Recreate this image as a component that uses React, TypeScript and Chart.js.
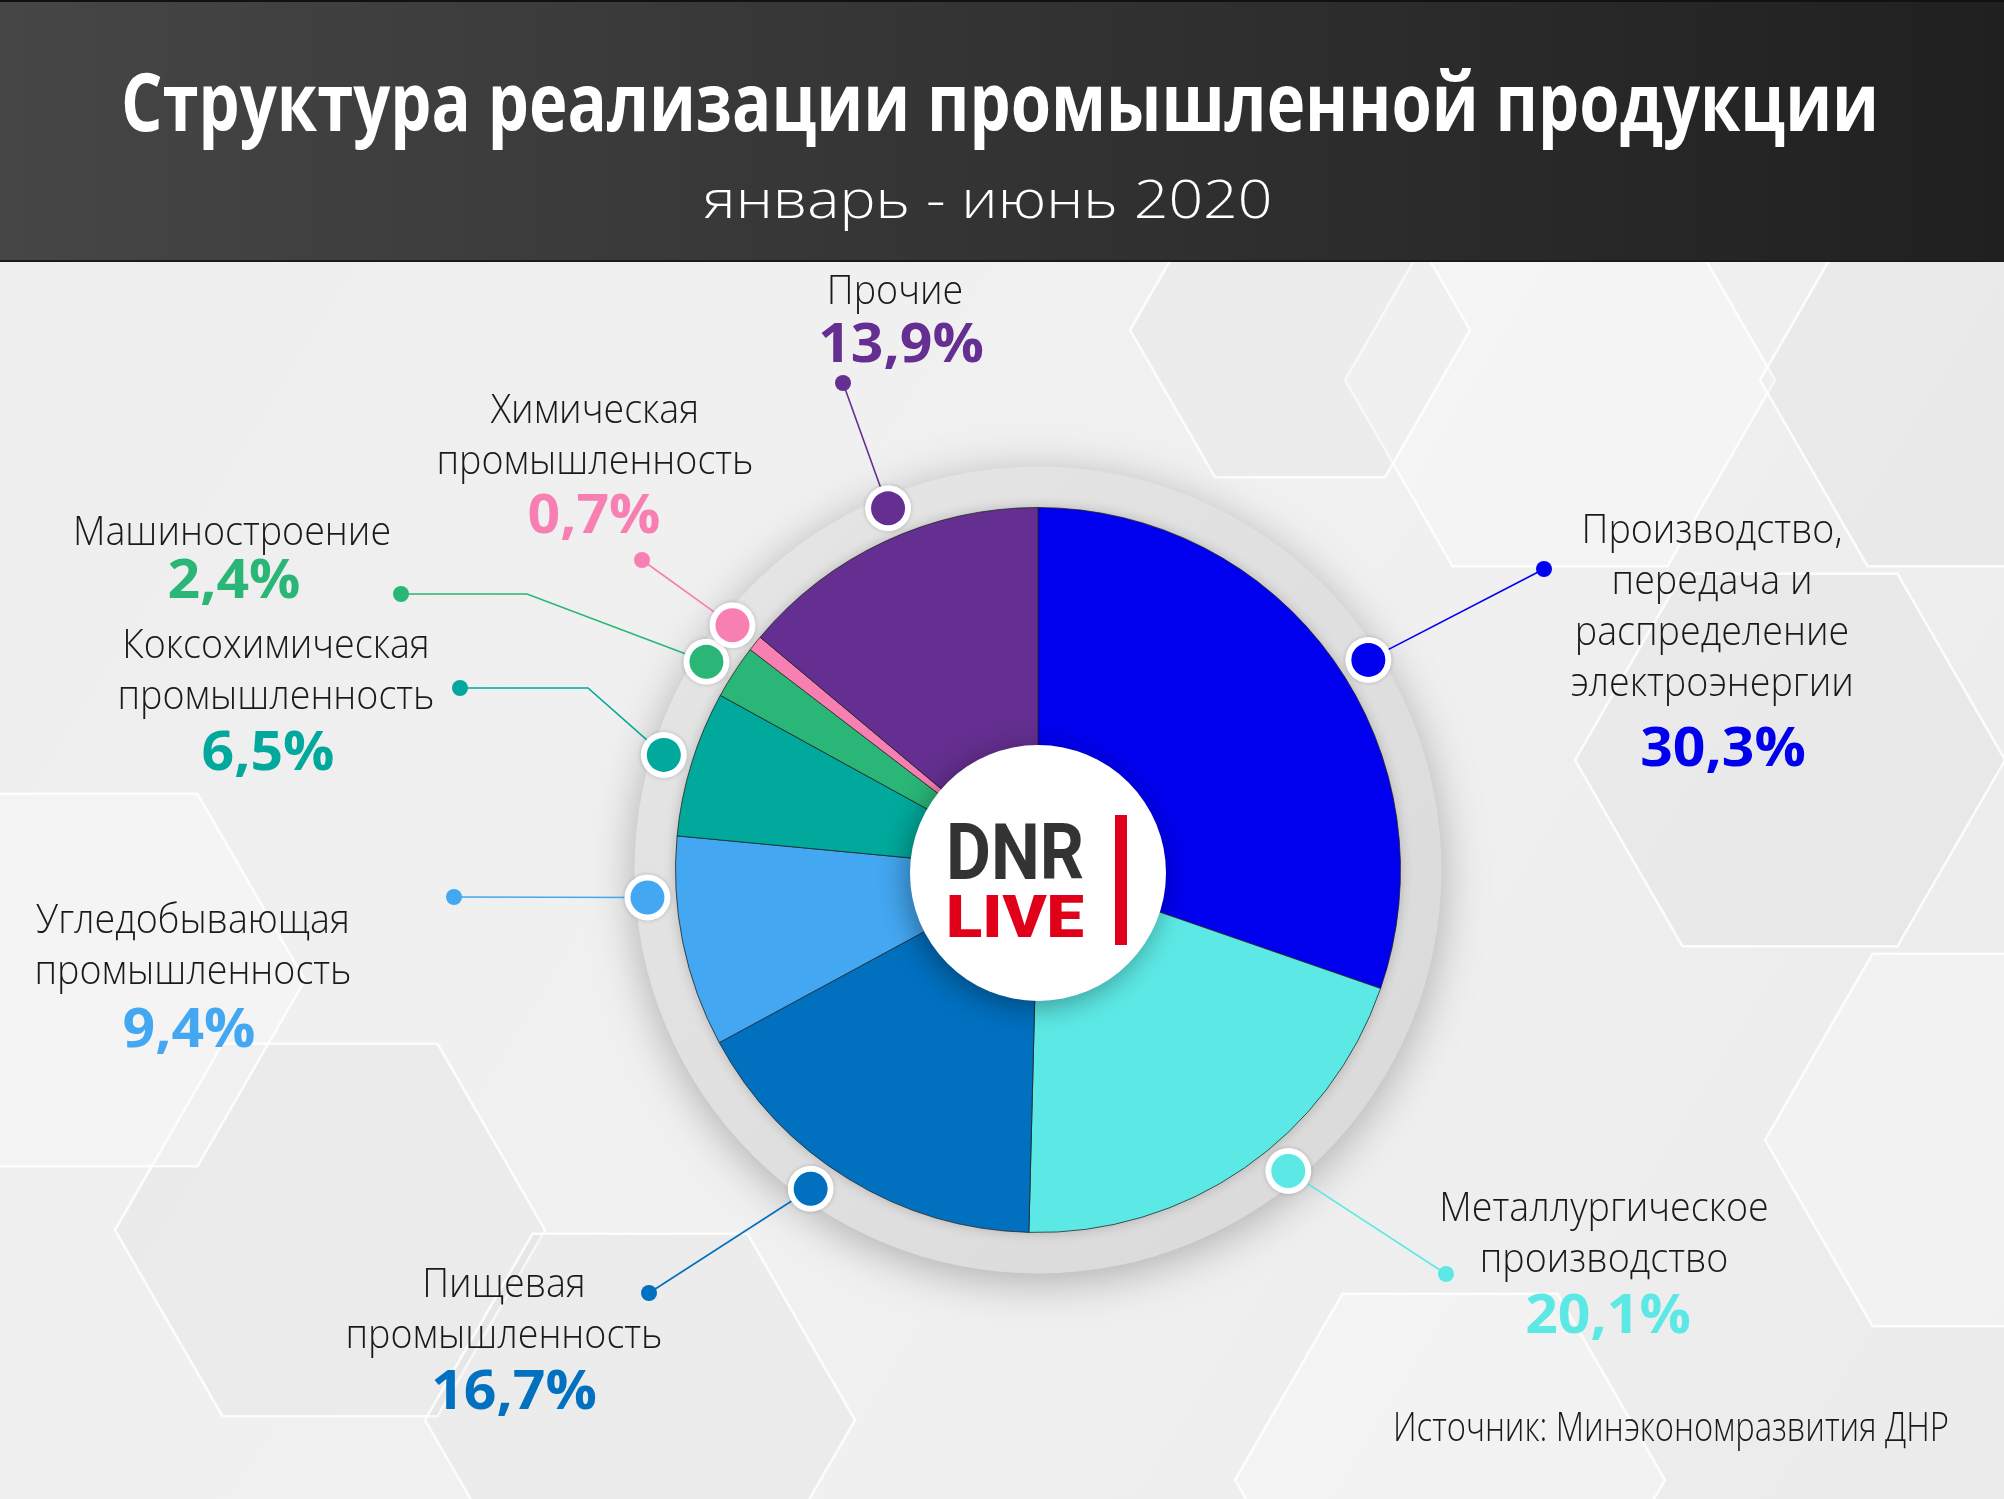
import { useEffect, useRef } from "react";
import { Chart, registerables } from "chart.js";

Chart.register(...registerables);

// ---------- DATA ----------
const titleText = "Структура реализации промышленной продукции";
const subtitleText = "январь - июнь 2020";
const sourceText = "Источник: Минэкономразвития ДНР";

const categories = [
  "Производство, передача и распределение электроэнергии",
  "Металлургическое производство",
  "Пищевая промышленность",
  "Угледобывающая промышленность",
  "Коксохимическая промышленность",
  "Машиностроение",
  "Химическая промышленность",
  "Прочие",
];
const shares = [30.3, 20.1, 16.7, 9.4, 6.5, 2.4, 0.7, 13.9];
const labelLines = [
  ["Производство,", "передача и", "распределение", "электроэнергии"],
  ["Металлургическое", "производство"],
  ["Пищевая", "промышленность"],
  ["Угледобывающая", "промышленность"],
  ["Коксохимическая", "промышленность"],
  ["Машиностроение"],
  ["Химическая", "промышленность"],
  ["Прочие"],
];

// ---------- STYLE / LAYOUT ----------
const sliceColors = ["#0000ee", "#5ce9e5", "#0070bf", "#43a7f1", "#00a99c", "#29b676", "#f77fb1", "#642f90"];
const labelLayout = [
  { x: 1712, y: 543, pctX: 1723, pctY: 766, nudge: 3, path: [[1544, 569]] },
  { x: 1604, y: 1221, pctX: 1608, pctY: 1333, nudge: -5, path: [[1446, 1274]] },
  { x: 504, y: 1297, pctX: 514, pctY: 1409, nudge: 4, path: [[649, 1293]] },
  { x: 193, y: 933, pctX: 189, pctY: 1047, nudge: 7.5, path: [[454, 897]] },
  { x: 276, y: 658, pctX: 268, pctY: 770, nudge: 0, path: [[588, 688], [460, 688]] },
  { x: 232, y: 545, pctX: 234, pctY: 598, nudge: -1, path: [[527, 594], [401, 594]] },
  { x: 595, y: 423, pctX: 594, pctY: 533, nudge: 0, path: [[642, 560]] },
  { x: 895, y: 304, pctX: 901, pctY: 362, nudge: 2.5, path: [[843, 383]] },
];
const hexes = [
  { cx: 1790, cy: 760, r: 215 },
  { cx: 1560, cy: 380, r: 215 },
  { cx: 1975, cy: 380, r: 215 },
  { cx: 1980, cy: 1140, r: 215 },
  { cx: 330, cy: 1230, r: 215 },
  { cx: 90, cy: 980, r: 215 },
  { cx: 640, cy: 1420, r: 215 },
  { cx: 1450, cy: 1480, r: 215 },
  { cx: 1300, cy: 330, r: 170 },
];

const W = 2004;
const H = 1499;
const LABEL_FONT = '300 40px "Open Sans"';
const PCT_FONT = '700 53px "Open Sans"';

function fmtPct(v: number) {
  return v.toFixed(1).replace(".", ",") + "%";
}

function drawText(ctx: CanvasRenderingContext2D, s: string, x: number, y: number, font: string, color: string, sx: number, align: CanvasTextAlign = "center") {
  ctx.save();
  ctx.font = font;
  ctx.fillStyle = color;
  ctx.textBaseline = "alphabetic";
  ctx.textAlign = align;
  ctx.translate(x, y);
  ctx.scale(sx, 1);
  ctx.fillText(s, 0, 0);
  ctx.restore();
}

function scaleFor(ctx: CanvasRenderingContext2D, s: string, font: string, target: number) {
  ctx.save();
  ctx.font = font;
  const w = ctx.measureText(s).width;
  ctx.restore();
  return w > 0 ? target / w : 1;
}

function hexPath(ctx: CanvasRenderingContext2D, cx: number, cy: number, r: number) {
  ctx.beginPath();
  for (let i = 0; i < 6; i++) {
    const a = (Math.PI / 3) * i;
    const px = cx + r * Math.cos(a);
    const py = cy + r * Math.sin(a);
    if (i === 0) ctx.moveTo(px, py);
    else ctx.lineTo(px, py);
  }
  ctx.closePath();
}

const decoPlugin = {
  id: "deco",
  beforeDraw(chart: any) {
    const ctx: CanvasRenderingContext2D = chart.ctx;
    ctx.save();
    const bg = ctx.createLinearGradient(0, 262, W, H);
    bg.addColorStop(0, "#eeeeee");
    bg.addColorStop(0.5, "#f1f1f1");
    bg.addColorStop(1, "#ebebeb");
    ctx.fillStyle = bg;
    ctx.fillRect(0, 0, W, H);
    hexes.forEach((h, i) => {
      hexPath(ctx, h.cx, h.cy, h.r);
      ctx.fillStyle = i % 2 === 0 ? "rgba(0,0,0,0.02)" : "rgba(255,255,255,0.3)";
      ctx.fill();
      ctx.strokeStyle = "rgba(255,255,255,0.85)";
      ctx.lineWidth = 2.5;
      ctx.stroke();
    });
    const hg = ctx.createLinearGradient(0, 0, W, 0);
    hg.addColorStop(0, "#464646");
    hg.addColorStop(1, "#202020");
    ctx.fillStyle = hg;
    ctx.fillRect(0, 0, W, 262);
    ctx.fillStyle = "#111";
    ctx.fillRect(0, 0, W, 2);
    ctx.fillStyle = "#1a1a1a";
    ctx.fillRect(0, 260, W, 2);
    const tsx = scaleFor(ctx, titleText, '700 80px "Open Sans"', 1758);
    drawText(ctx, titleText, 1000, 131, '700 80px "Open Sans"', "#ffffff", tsx);
    const ssx = scaleFor(ctx, subtitleText, '300 54px "Open Sans"', 569);
    drawText(ctx, subtitleText, 988, 218, '300 54px "Open Sans"', "#ffffff", ssx);
    ctx.restore();
  },
  beforeDatasetsDraw(chart: any) {
    const ctx: CanvasRenderingContext2D = chart.ctx;
    const arc = chart.getDatasetMeta(0).data[0];
    if (!arc) return;
    const { x, y, outerRadius } = arc;
    ctx.save();
    ctx.shadowColor = "rgba(0,0,0,0.28)";
    ctx.shadowBlur = 45;
    ctx.shadowOffsetY = 8;
    ctx.beginPath();
    ctx.arc(x, y, outerRadius + 41, 0, Math.PI * 2);
    const rg = ctx.createLinearGradient(x - 400, y - 400, x + 400, y + 400);
    rg.addColorStop(0, "#e6e6e6");
    rg.addColorStop(1, "#d9d9d9");
    ctx.fillStyle = rg;
    ctx.fill();
    ctx.restore();
    ctx.save();
    ctx.shadowColor = "rgba(0,0,0,0.18)";
    ctx.shadowBlur = 12;
    ctx.beginPath();
    ctx.arc(x, y, outerRadius + 1, 0, Math.PI * 2);
    ctx.fillStyle = "#cccccc";
    ctx.fill();
    ctx.restore();
  },
  afterDatasetsDraw(chart: any) {
    const ctx: CanvasRenderingContext2D = chart.ctx;
    const meta = chart.getDatasetMeta(0);
    const arc0 = meta.data[0];
    if (!arc0) return;
    const cx = arc0.x;
    const cy = arc0.y;
    const R = arc0.outerRadius;

    ctx.save();
    ctx.shadowColor = "rgba(0,0,0,0.35)";
    ctx.shadowBlur = 28;
    ctx.shadowOffsetX = -4;
    ctx.shadowOffsetY = 6;
    ctx.beginPath();
    ctx.arc(cx, cy + 3, 128, 0, Math.PI * 2);
    ctx.fillStyle = "#ffffff";
    ctx.fill();
    ctx.restore();
    const dnrFont = '700 78px "Roboto"';
    const liveFont = '900 60px "Roboto"';
    drawText(ctx, "DNR", cx - 92, cy + 9, dnrFont, "#333333", scaleFor(ctx, "DNR", dnrFont, 138), "left");
    drawText(ctx, "LIVE", cx - 92, cy + 67, liveFont, "#e1001a", scaleFor(ctx, "LIVE", liveFont, 138), "left");
    ctx.fillStyle = "#e1001a";
    ctx.fillRect(cx + 77, cy - 55, 12, 130);

    const lsx = scaleFor(ctx, "промышленность", LABEL_FONT, 317);
    const psx = scaleFor(ctx, "2,4%", PCT_FONT, 133);

    meta.data.forEach((el: any, i: number) => {
      const lay = labelLayout[i];
      const color = sliceColors[i];
      const a = (el.startAngle + el.endAngle) / 2 + (lay.nudge * Math.PI) / 180;
      const mx = cx + Math.cos(a) * (R + 29);
      const my = cy + Math.sin(a) * (R + 29);
      ctx.save();
      ctx.strokeStyle = color;
      ctx.lineWidth = 1.6;
      ctx.beginPath();
      ctx.moveTo(mx, my);
      lay.path.forEach((p) => ctx.lineTo(p[0], p[1]));
      ctx.stroke();
      const end = lay.path[lay.path.length - 1];
      ctx.beginPath();
      ctx.arc(end[0], end[1], 8, 0, Math.PI * 2);
      ctx.fillStyle = color;
      ctx.fill();
      ctx.shadowColor = "rgba(0,0,0,0.2)";
      ctx.shadowBlur = 4;
      ctx.beginPath();
      ctx.arc(mx, my, 23, 0, Math.PI * 2);
      ctx.fillStyle = "#ffffff";
      ctx.fill();
      ctx.shadowColor = "transparent";
      ctx.beginPath();
      ctx.arc(mx, my, 17, 0, Math.PI * 2);
      ctx.fillStyle = color;
      ctx.fill();
      ctx.restore();
      labelLines[i].forEach((line, k) => {
        drawText(ctx, line, lay.x, lay.y + k * 51, LABEL_FONT, "#1a1a1a", lsx);
      });
      drawText(ctx, fmtPct(shares[i]), lay.pctX, lay.pctY, PCT_FONT, color, psx);
    });

    const ssx2 = scaleFor(ctx, sourceText, LABEL_FONT, 556);
    drawText(ctx, sourceText, 1949, 1441, LABEL_FONT, "#1a1a1a", ssx2, "right");
  },
};

export default function App() {
  const ref = useRef<HTMLCanvasElement | null>(null);
  useEffect(() => {
    document.body.style.margin = "0";
    const canvas = ref.current;
    if (!canvas) return;
    const chart = new Chart(canvas, {
      type: "pie",
      data: {
        labels: categories,
        datasets: [
          {
            data: shares,
            backgroundColor: sliceColors,
            borderColor: "rgba(30,30,30,0.75)",
            borderWidth: 1,
            hoverOffset: 0,
            offset: 0,
          },
        ],
      },
      options: {
        responsive: false,
        animation: false,
        devicePixelRatio: 1,
        layout: { padding: { left: 675, right: 603, top: 507, bottom: 266 } },
        plugins: {
          legend: { display: false },
          tooltip: { enabled: false },
          title: { display: false },
        },
        events: [],
      },
      plugins: [decoPlugin],
    });
    return () => chart.destroy();
  }, []);
  return (
    <div style={{ width: W, height: H, position: "relative", overflow: "hidden" }}>
      <canvas ref={ref} width={W} height={H} style={{ width: W, height: H, display: "block" }} />
    </div>
  );
}
